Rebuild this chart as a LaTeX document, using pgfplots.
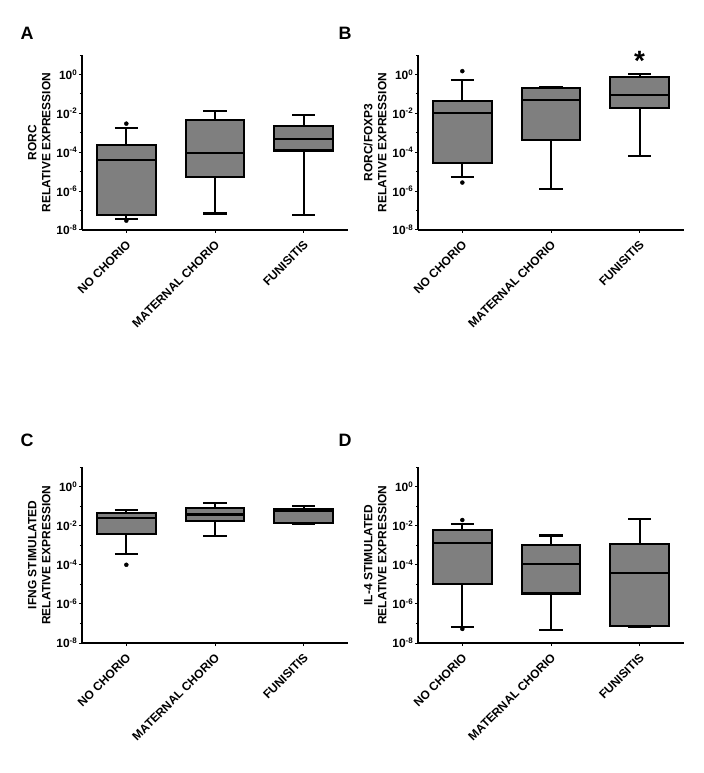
\documentclass[border=0pt]{standalone}
\usepackage{fontspec}
\setmainfont{Liberation Sans}
\usepackage{pgfplots}
\pgfplotsset{compat=1.18}
\definecolor{boxgray}{HTML}{7F7F7F}

% all y values are log10 of the relative expression
\pgfplotsset{
  boxpanel/.style={
    scale only axis, width=266bp, height=175bp,
    anchor=south west, clip mode=individual,
    ymin=-8, ymax=1,
    xmin=0.5, xmax=3.5,
    axis x line*=bottom, axis y line*=left,
    axis line style={line width=1.6bp, black},
    tick align=outside,
    tick style={black, line width=1bp},
    major tick length=3bp, minor tick length=2bp,
    xtick={1,2,3},
    xticklabels={NO CHORIO, MATERNAL CHORIO, FUNISITIS},
    xticklabel style={rotate=45, anchor=north east, inner sep=1bp,
      font=\fontsize{12}{14}\selectfont\bfseries, yshift=-3bp, xshift=-4bp},
    ytick={-8,-6,-4,-2,0},
    yticklabels={10\textsuperscript{-8},10\textsuperscript{-6},10\textsuperscript{-4},10\textsuperscript{-2},10\textsuperscript{0}},
    minor ytick={-7,-5,-3,-1,1},
    yticklabel style={font=\fontsize{12}{14}\selectfont\bfseries, inner sep=1.5bp},
    ylabel style={at={(axis description cs:-0.118,0.5)}, anchor=south,
      align=center, inner sep=0pt, font=\fontsize{12}{14}\selectfont\bfseries},
  },
  boxline/.style={black, line width=2.1bp, line join=miter, mark=none},
  outl/.style={only marks, mark=*, mark size=2bp, black},
}
% draw position, lower whisker, lower quartile, median, upper quartile, upper whisker
\newcommand{\bx}[6]{%
  \pgfmathsetmacro\bxl{#1-0.33}\pgfmathsetmacro\bxr{#1+0.33}%
  \pgfmathsetmacro\cxl{#1-0.13}\pgfmathsetmacro\cxr{#1+0.13}%
  \addplot[boxline] coordinates {(#1,#2) (#1,#3)};
  \addplot[boxline] coordinates {(#1,#5) (#1,#6)};
  \addplot[boxline] coordinates {(\cxl,#2) (\cxr,#2)};
  \addplot[boxline] coordinates {(\cxl,#6) (\cxr,#6)};
  \addplot[boxline, fill=boxgray] coordinates {(\bxl,#3) (\bxr,#3) (\bxr,#5) (\bxl,#5)} -- cycle;
  \addplot[boxline] coordinates {(\bxl,#4) (\bxr,#4)};
}

\begin{document}
\begin{tikzpicture}
\useasboundingbox (0,0) rectangle (704bp,773bp);

% A
\begin{axis}[boxpanel, at={(82bp,543bp)},
  ylabel={RORC\\RELATIVE EXPRESSION}]
  \bx{1}{-7.44}{-7.21}{-4.41}{-3.61}{-2.74}
  \bx{2}{-7.15}{-5.26}{-4.03}{-2.36}{-1.90}
  \bx{3}{-7.25}{-3.91}{-3.33}{-2.67}{-2.07}
  \addplot[outl] coordinates {(1,-2.53) (1,-7.52)};
\end{axis}

% B
\begin{axis}[boxpanel, at={(418bp,543bp)},
  ylabel={RORC/FOXP3\\RELATIVE EXPRESSION}]
  \bx{1}{-5.26}{-4.55}{-1.98}{-1.38}{-0.27}
  \bx{2}{-5.88}{-3.37}{-1.30}{-0.72}{-0.63}
  \bx{3}{-4.19}{-1.74}{-1.04}{-0.15}{0.02}
  \addplot[outl] coordinates {(1,0.17) (1,-5.56)};
  \node[anchor=base, font=\fontsize{28}{28}\selectfont\bfseries] at (axis cs:3,0.2) {*};
\end{axis}

% C
\begin{axis}[boxpanel, at={(82bp,130bp)}, height=176bp,
  ylabel={IFNG STIMULATED\\RELATIVE EXPRESSION}]
  \bx{1}{-3.47}{-2.42}{-1.63}{-1.33}{-1.19}
  \bx{2}{-2.55}{-1.77}{-1.43}{-1.09}{-0.85}
  \bx{3}{-1.92}{-1.86}{-1.23}{-1.16}{-0.99}
  \addplot[outl] coordinates {(1,-4.0)};
\end{axis}

% D
\begin{axis}[boxpanel, at={(418bp,130bp)}, height=176bp,
  ylabel={IL-4 STIMULATED\\RELATIVE EXPRESSION}]
  \bx{1}{-7.20}{-4.96}{-2.87}{-2.24}{-1.91}
  \bx{2}{-7.35}{-5.47}{-3.95}{-2.97}{-2.50}
  \bx{3}{-7.18}{-7.11}{-4.41}{-2.94}{-1.68}
  \addplot[outl] coordinates {(1,-1.71) (1,-7.28)};
\end{axis}

\begin{scope}[every node/.style={font=\fontsize{18}{18}\selectfont\bfseries}]
  \node at (27bp,740bp) {A};
  \node at (345bp,740bp) {B};
  \node at (27bp,333bp) {C};
  \node at (345bp,333bp) {D};
\end{scope}
\end{tikzpicture}
\end{document}
